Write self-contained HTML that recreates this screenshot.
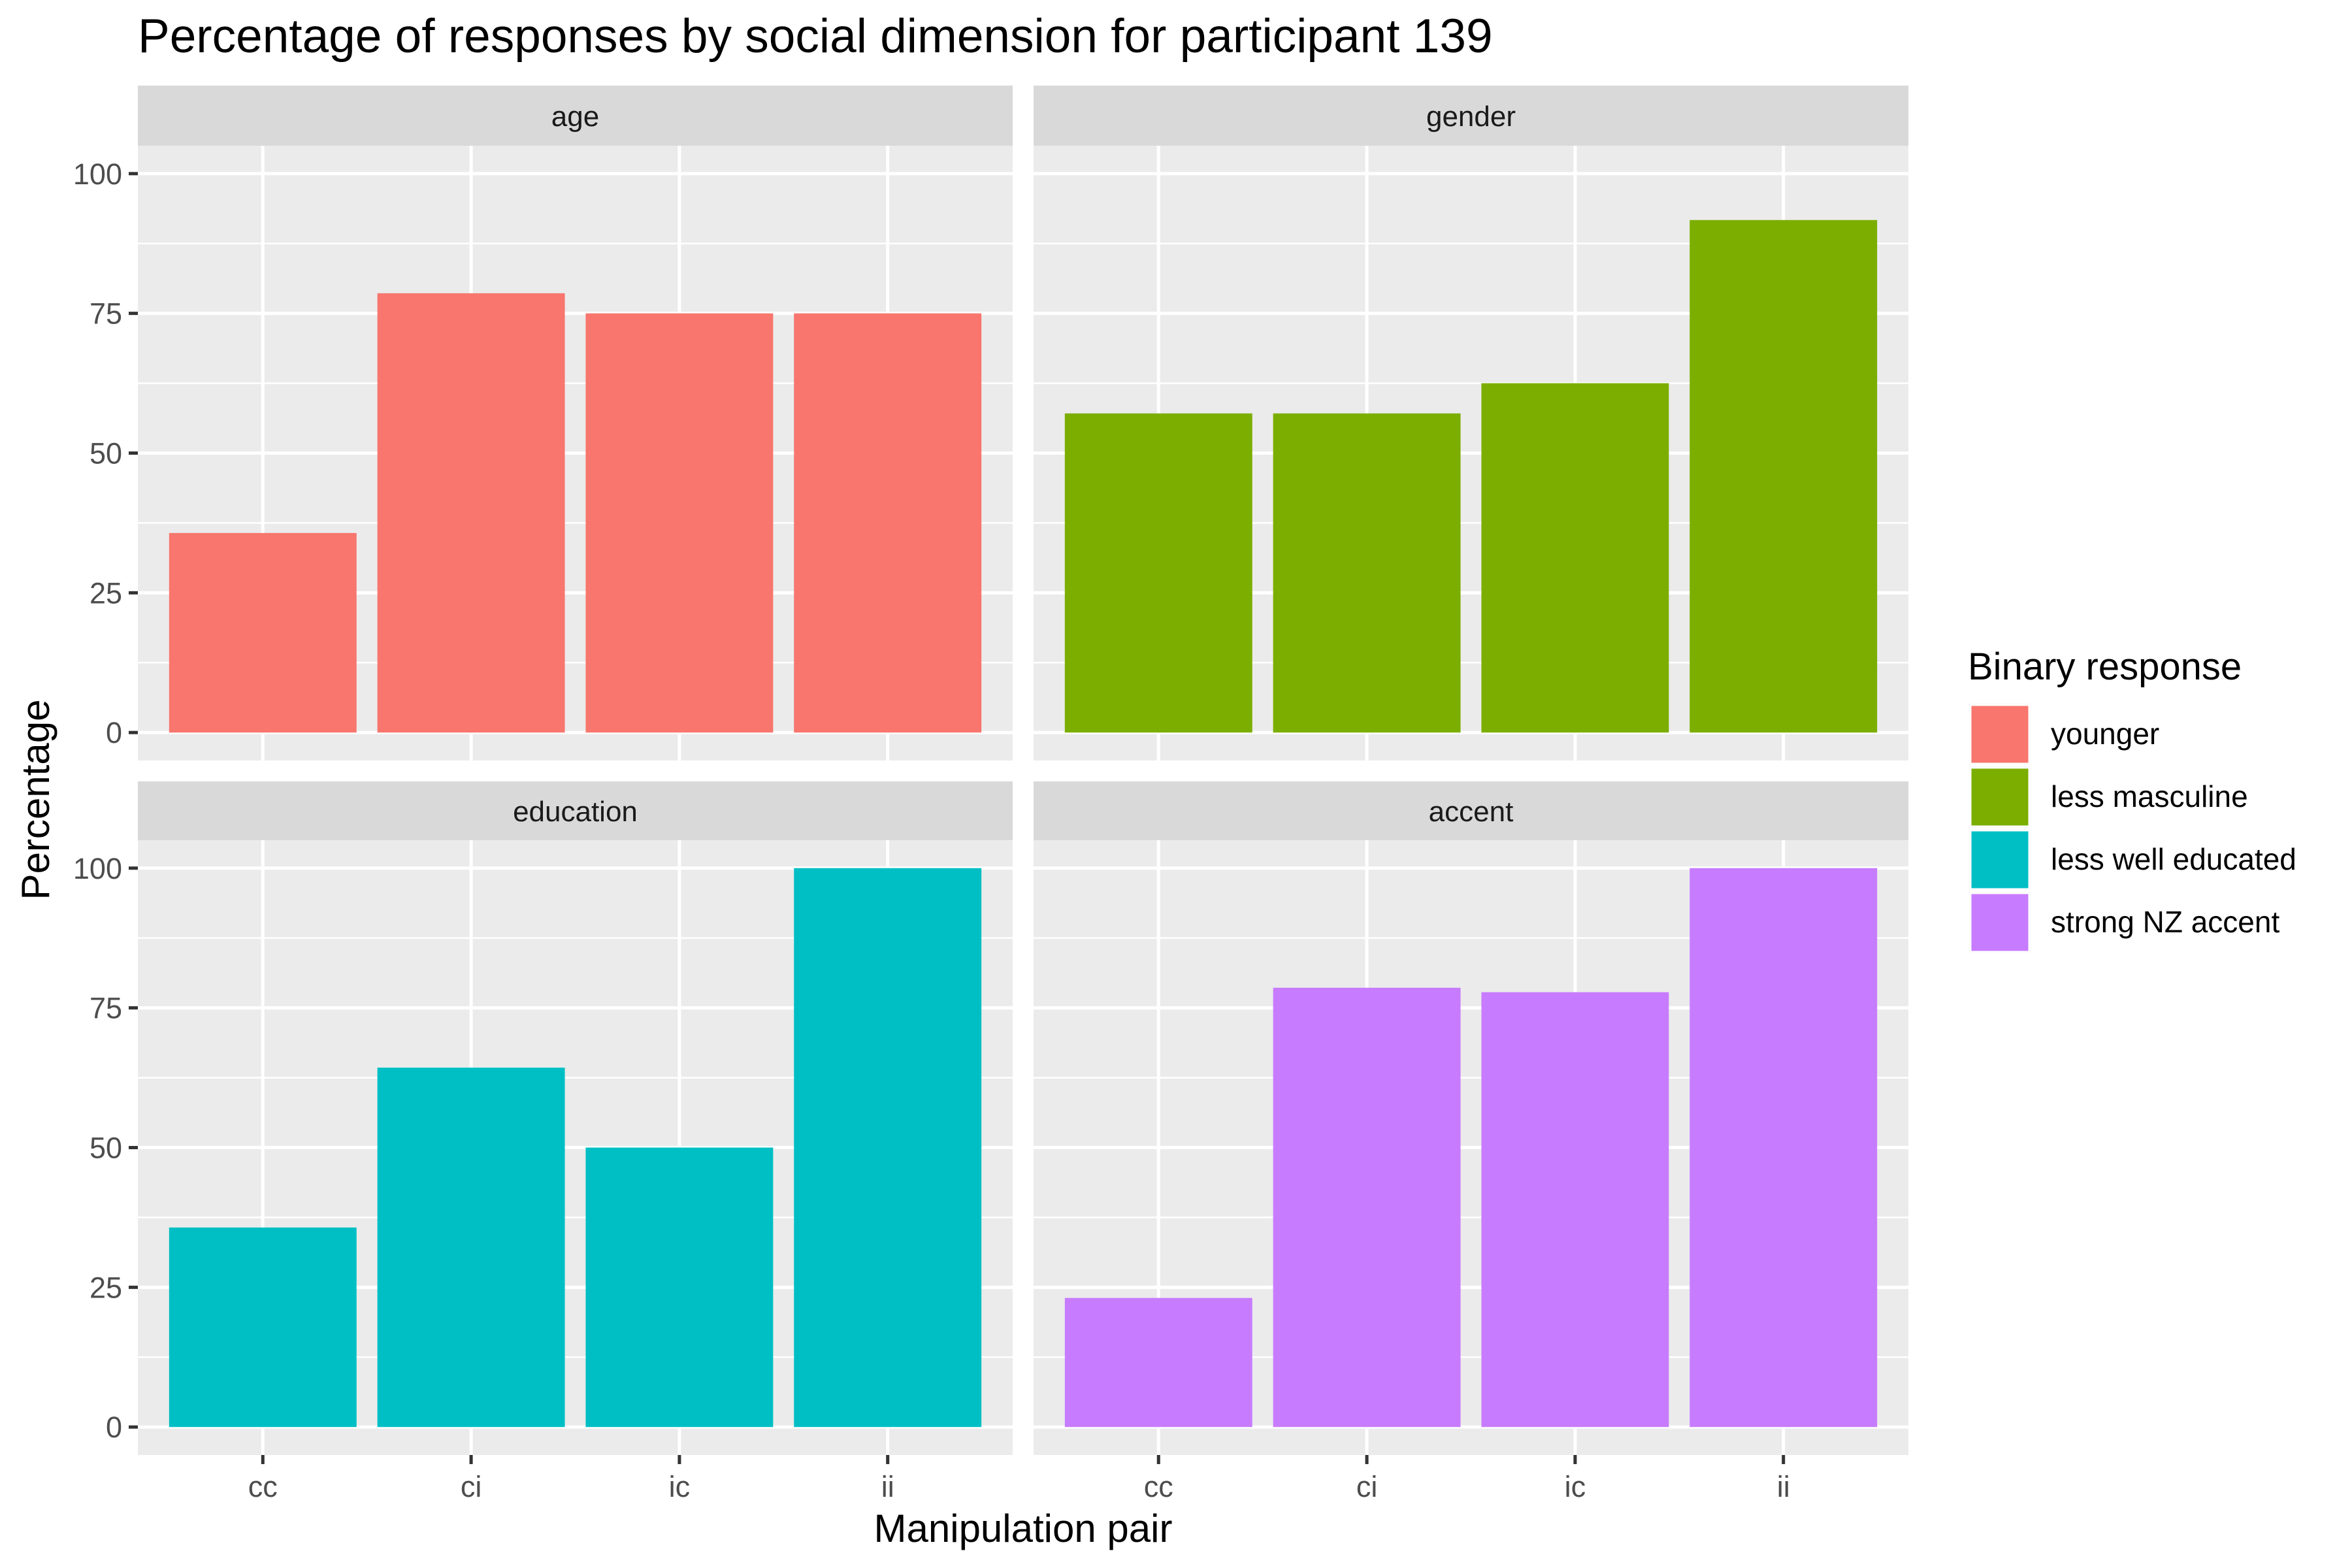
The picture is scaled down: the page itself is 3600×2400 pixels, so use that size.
<!DOCTYPE html>
<html><head><meta charset="utf-8"><style>
html,body{margin:0;padding:0;background:#fff;}
svg{display:block;font-family:"Liberation Sans",Arial,sans-serif;}
</style></head><body>
<svg id="chart" width="3600" height="2400" viewBox="0 0 3600 2400" xmlns="http://www.w3.org/2000/svg">
<rect width="3600" height="2400" fill="#fff"/>
<text x="211" y="80" font-size="73" fill="#000">Percentage of responses by social dimension for participant 139</text>
<text x="1566" y="2360" font-size="60" text-anchor="middle" fill="#000">Manipulation pair</text>
<text transform="translate(75,1224) rotate(-90)" font-size="60" text-anchor="middle" fill="#000">Percentage</text>
<g id="panels"></g>
<g id="legend"></g>
</svg>
<script>
const categories = ["cc","ci","ic","ii"];
const facets = ["age","gender","education","accent"];
const ageValues = [35.7, 78.6, 75, 75];
const genderValues = [57.1, 57.1, 62.5, 91.7];
const educationValues = [35.7, 64.3, 50, 100];
const accentValues = [23.1, 78.6, 77.8, 100];
const yTicks = [0, 25, 50, 75, 100];
const legendLabels = ["younger","less masculine","less well educated","strong NZ accent"];

const colors = ["#F8766D","#7CAE00","#00BFC4","#C77CFF"];
const seriesAll = [ageValues, genderValues, educationValues, accentValues];
const NS = "http://www.w3.org/2000/svg";
const panelsG = document.getElementById('panels');
function mk(tag, attrs, parent){const e=document.createElementNS(NS,tag);for(const k in attrs)e.setAttribute(k,attrs[k]);(parent||panelsG).appendChild(e);return e;}

const cols=[[211,1550],[1582,2921]];
const rows=[{st:131,pt:223,pb:1164},{st:1196,pt:1286,pb:2227}];
facets.forEach((f,i)=>{
  const c=cols[i%2], r=rows[Math.floor(i/2)];
  const x0=c[0], w=c[1]-c[0], h=r.pb-r.pt;
  const yS=v=>r.pb-(v+5)/110*h;
  const xS=k=>x0+(k+1-0.4)/4.2*w;
  const bw=0.9*w/4.2;
  const g=mk('g',{});
  
  
  const strip=mk('rect',{x:x0,y:r.st,width:w,height:r.pt-r.st,fill:'#D9D9D9'},g);
  
  
  const st=mk('text',{x:x0+w/2,y:(r.st+r.pt)/2+16,'font-size':44,'text-anchor':'middle',fill:'#1A1A1A'},g);
  st.textContent=f;
  
  
  const bg=mk('rect',{x:x0,y:r.pt,width:w,height:h,fill:'#EBEBEB'},g);
  
  
  for(let j=0;j<yTicks.length-1;j++){const m=(yTicks[j]+yTicks[j+1])/2;mk('line',{x1:x0,x2:x0+w,y1:yS(m),y2:yS(m),stroke:'#fff','stroke-width':2.5},g);}
  yTicks.forEach(t=>{const l=mk('line',{x1:x0,x2:x0+w,y1:yS(t),y2:yS(t),stroke:'#fff','stroke-width':5},g);
    
    });
  categories.forEach((cat,k)=>{const l=mk('line',{x1:xS(k),x2:xS(k),y1:r.pt,y2:r.pb,stroke:'#fff','stroke-width':5},g);
    
    });
  seriesAll[i].forEach((v,k)=>{
    const b=mk('rect',{x:xS(k)-bw/2,y:yS(v),width:bw,height:yS(0)-yS(v),fill:colors[i]},g);
    
    
  });
  if(i%2===0){
    yTicks.forEach(t=>{
      mk('line',{x1:x0-14,x2:x0,y1:yS(t),y2:yS(t),stroke:'#333','stroke-width':5},g);
      const tl=mk('text',{x:x0-24,y:yS(t)+16,'font-size':45,'text-anchor':'end',fill:'#4D4D4D'},g);
      tl.textContent=t;
      
      
    });
  }
  if(i>=2){
    categories.forEach((cat,k)=>{
      mk('line',{x1:xS(k),x2:xS(k),y1:r.pb,y2:r.pb+14,stroke:'#333','stroke-width':5},g);
      const tl=mk('text',{x:xS(k),y:r.pb+64,'font-size':45,'text-anchor':'middle',fill:'#4D4D4D'},g);
      tl.textContent=cat;
      
      
    });
  }
});
const lg=document.getElementById('legend');
const lt=mk('text',{x:3012,y:1040,'font-size':58,fill:'#000'},lg);
lt.textContent='Binary response';


legendLabels.forEach((lab,i)=>{
  const y=1077+i*96;
  const e=mk('g',{},lg);
  
  
  mk('rect',{x:3014,y:y,width:94,height:94,fill:'#F2F2F2'},e);
  mk('rect',{x:3016,y:y+2,width:90,height:90,fill:colors[i],stroke:'#fff','stroke-width':3},e);
  const t=mk('text',{x:3139,y:y+62,'font-size':46,fill:'#000'},e);
  t.textContent=lab;
});
</script>
</body></html>
